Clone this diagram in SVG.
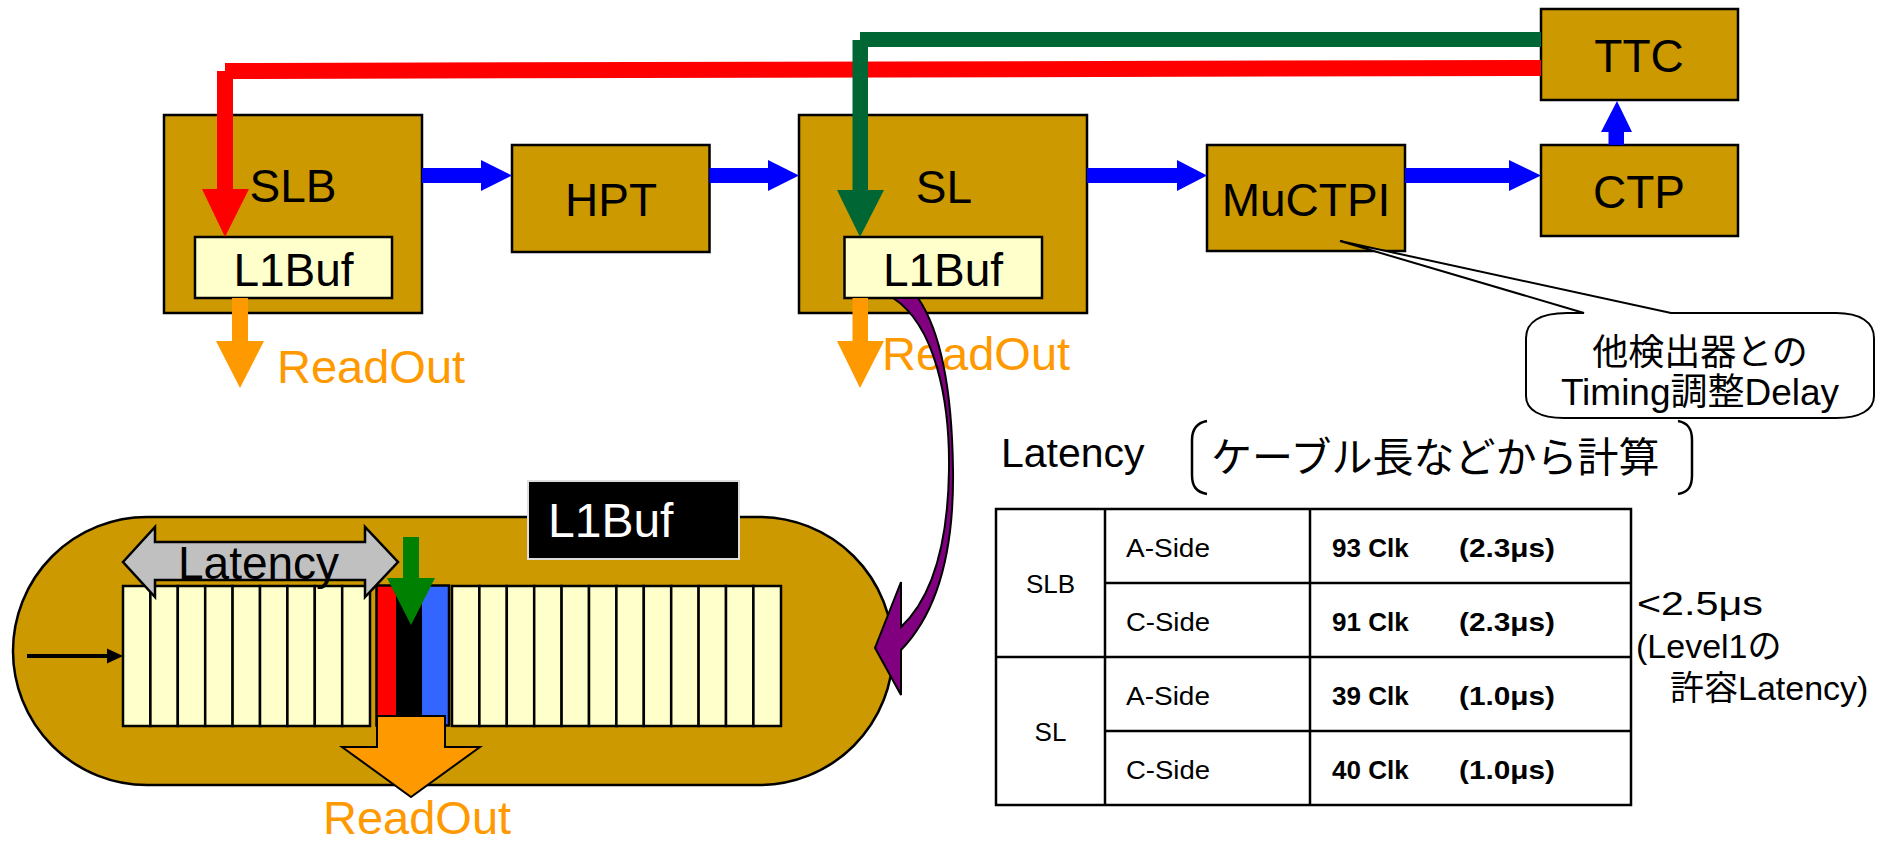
<svg xmlns="http://www.w3.org/2000/svg" width="1890" height="843" viewBox="0 0 1890 843">
<style>
.box{fill:#CC9900;stroke:#000;stroke-width:2.5}
.buf{fill:#FFFFCC;stroke:#000;stroke-width:2.5}
.cell{fill:#FFFFCC;stroke:#000;stroke-width:2.5}
.lbl{font-family:"Liberation Sans",Arial,sans-serif;font-size:46px;fill:#000}
.ro{font-family:"Liberation Sans",Arial,sans-serif;font-size:47px;fill:#FF9900}
.jp{font-family:"Noto Sans CJK JP","Liberation Sans",sans-serif;fill:#000}
.mix{font-family:"Liberation Sans","Noto Sans CJK JP",sans-serif;fill:#000}
.tb{font-family:"Liberation Sans","Noto Sans CJK JP",sans-serif;font-size:26px;fill:#000}
.tbb{font-family:"Liberation Sans","Noto Sans CJK JP",sans-serif;font-size:26px;font-weight:bold;fill:#000}
.blue{fill:#0000FF}
.tline{fill:none;stroke:#000;stroke-width:2.5}
</style>

<!-- top nodes -->
<g id="SLB">
  <rect class="box" x="164" y="115" width="258" height="198"/>
  <text class="lbl" x="293" y="202" text-anchor="middle">SLB</text>
  <rect class="buf" x="195" y="237" width="197" height="61"/>
  <text class="lbl" x="293.5" y="286" text-anchor="middle">L1Buf</text>
</g>
<g id="HPT">
  <rect class="box" x="512" y="145" width="197.5" height="107"/>
  <text class="lbl" x="611" y="216" text-anchor="middle">HPT</text>
</g>
<g id="SL">
  <rect class="box" x="799" y="115" width="288" height="198"/>
  <text class="lbl" x="944" y="203" text-anchor="middle">SL</text>
  <rect class="buf" x="844.5" y="237" width="197.5" height="61"/>
  <text class="lbl" x="943" y="286" text-anchor="middle">L1Buf</text>
</g>
<g id="MuCTPI">
  <rect class="box" x="1207" y="145" width="198" height="106"/>
  <text class="lbl" x="1306" y="216" text-anchor="middle">MuCTPI</text>
</g>
<g id="TTC">
  <rect class="box" x="1541" y="9" width="197" height="91"/>
  <text class="lbl" x="1639" y="72" text-anchor="middle">TTC</text>
</g>
<g id="CTP">
  <rect class="box" x="1541" y="145" width="197" height="91"/>
  <text class="lbl" x="1639" y="208" text-anchor="middle">CTP</text>
</g>

<!-- connectors -->
<g id="connectors">
  <!-- red timing line TTC -> SLB L1Buf -->
  <polygon fill="#FF0000" points="225,63 1541,60 1541,76 225,79"/>
  <rect fill="#FF0000" x="217" y="71" width="16" height="119"/>
  <polygon fill="#FF0000" points="202,189 249,189 225,237"/>
  <!-- green timing line TTC -> SL L1Buf -->
  <rect fill="#006633" x="860" y="32" width="681" height="15"/>
  <rect fill="#006633" x="852.5" y="40" width="15.5" height="151"/>
  <polygon fill="#006633" points="837,190 884,190 860,237"/>
  <!-- blue data arrows -->
  <polygon class="blue" points="422,168 481,168 481,160 512,175.5 481,191 481,183 422,183"/>
  <polygon class="blue" points="709.5,168 768,168 768,160 799,175.5 768,191 768,183 709.5,183"/>
  <polygon class="blue" points="1087,168 1177,168 1177,160 1207,175.5 1177,191 1177,183 1087,183"/>
  <polygon class="blue" points="1405,168 1509,168 1509,160 1541,175.5 1509,191 1509,183 1405,183"/>
  <polygon class="blue" points="1608.5,145 1608.5,132 1601,132 1617,101 1632,132 1624,132 1624,145"/>
  <!-- readout arrows -->
  <polygon fill="#FF9900" points="232,298 248,298 248,341 264,341 240,388 216,341 232,341"/>
  <polygon fill="#FF9900" points="852.5,298 868,298 868,341 884,341 860,388 837,341 852.5,341"/>
</g>

<text class="ro" x="277" y="383">ReadOut</text>
<text class="ro" x="882" y="370">ReadOut</text>

<!-- callout -->
<g id="callout">
  <path d="M1567,313 L1584,313 L1340,241 L1671,313 L1836,313 C1860,313 1874,322 1874,338 L1874,396 C1874,410 1860,418 1836,418 L1564,418 C1540,418 1526,410 1526,396 L1526,338 C1526,322 1540,313 1567,313 Z" fill="#FFFFFF" stroke="#000" stroke-width="2"/>
  <text class="jp" x="1700" y="365" font-size="36" text-anchor="middle">他検出器との</text>
  <text class="mix" x="1700" y="405" font-size="37" text-anchor="middle">Timing調整Delay</text>
</g>

<!-- L1Buf detail -->
<g id="L1Buf-detail">
  <rect x="13" y="517" width="880" height="268" rx="134" ry="134" fill="#CC9900" stroke="#000" stroke-width="2.5"/>
  <g id="cells-left">
    <rect class="cell" x="123" y="586" width="27.4" height="140"/>
    <rect class="cell" x="150.4" y="586" width="27.4" height="140"/>
    <rect class="cell" x="177.8" y="586" width="27.4" height="140"/>
    <rect class="cell" x="205.2" y="586" width="27.4" height="140"/>
    <rect class="cell" x="232.6" y="586" width="27.4" height="140"/>
    <rect class="cell" x="260" y="586" width="27.4" height="140"/>
    <rect class="cell" x="287.4" y="586" width="27.4" height="140"/>
    <rect class="cell" x="314.8" y="586" width="27.4" height="140"/>
    <rect class="cell" x="342.2" y="586" width="27.8" height="140"/>
  </g>
  <g id="cells-current">
    <rect x="377" y="586" width="19" height="139" fill="#FF0000"/>
    <rect x="396" y="586" width="26" height="139" fill="#000000"/>
    <rect x="422" y="586" width="27" height="139" fill="#3366FF"/>
    <rect x="376.5" y="585.5" width="72.5" height="140" fill="none" stroke="#000" stroke-width="2.5"/>
  </g>
  <g id="cells-right">
    <rect class="cell" x="452" y="586" width="27.4" height="140"/>
    <rect class="cell" x="479.4" y="586" width="27.4" height="140"/>
    <rect class="cell" x="506.8" y="586" width="27.4" height="140"/>
    <rect class="cell" x="534.2" y="586" width="27.4" height="140"/>
    <rect class="cell" x="561.6" y="586" width="27.4" height="140"/>
    <rect class="cell" x="589" y="586" width="27.4" height="140"/>
    <rect class="cell" x="616.4" y="586" width="27.4" height="140"/>
    <rect class="cell" x="643.8" y="586" width="27.4" height="140"/>
    <rect class="cell" x="671.2" y="586" width="27.4" height="140"/>
    <rect class="cell" x="698.6" y="586" width="27.4" height="140"/>
    <rect class="cell" x="726" y="586" width="27.4" height="140"/>
    <rect class="cell" x="753.4" y="586" width="27.6" height="140"/>
  </g>
  <!-- input arrow -->
  <line x1="27" y1="656" x2="108" y2="656" stroke="#000" stroke-width="4"/>
  <polygon points="107,648.5 123,656 107,663.5" fill="#000"/>
  <!-- latency double arrow -->
  <polygon points="123,562 155,527 155,542 365,542 365,527 398,562 365,597 365,580 155,580 155,597" fill="#C0C0C0" stroke="#000" stroke-width="2.5"/>
  <text class="lbl" x="178" y="579">Latency</text>
  <!-- trigger arrow -->
  <polygon points="403,537 419,537 419,578 435,578 411,625 387,578 403,578" fill="#008000"/>
  <!-- readout block arrow -->
  <polygon points="377,716 445,716 445,747 480,747 411,797 342,747 377,747" fill="#FF9900" stroke="#000" stroke-width="2"/>
  <!-- label -->
  <rect x="528" y="481" width="211" height="78" fill="#000" stroke="#DDDDDD" stroke-width="2"/>
  <text x="548" y="537" font-family="Liberation Sans,Arial,sans-serif" font-size="48" fill="#FFFFFF">L1Buf</text>
</g>
<text class="ro" x="323" y="834" font-size="46">ReadOut</text>

<!-- curved arrow SL L1Buf -> detail -->
<g id="zoom-arrow">
  <path d="M893,298 C935,325 950,400 949,470 C948,540 935,595 901,627 L901,582 L875,648 L901,695 L901,650 C940,610 954,545 953,470 C952,390 940,330 918,298 Z" fill="#800080" stroke="#000" stroke-width="2" stroke-linejoin="miter"/>
</g>

<!-- latency header -->
<g id="latency-header">
  <text class="mix" x="1001" y="467" font-size="41">Latency</text>
  <path d="M1207,421 C1196,423 1192,430 1192,440 L1192,475 C1192,486 1196,492 1207,494" class="tline"/>
  <path d="M1678,421 C1689,423 1692,430 1692,440 L1692,475 C1692,486 1689,492 1678,494" class="tline"/>
  <text class="jp" x="1211" y="472" font-size="41">ケーブル長などから計算</text>
</g>

<!-- table -->
<g id="table">
  <rect x="996" y="509" width="635" height="296" fill="#FFFFFF" stroke="#000" stroke-width="2.5"/>
  <line x1="1105" y1="509" x2="1105" y2="805" stroke="#000" stroke-width="2.5"/>
  <line x1="1310" y1="509" x2="1310" y2="805" stroke="#000" stroke-width="2.5"/>
  <line x1="996" y1="657" x2="1631" y2="657" stroke="#000" stroke-width="2.5"/>
  <line x1="1105" y1="583" x2="1631" y2="583" stroke="#000" stroke-width="2.5"/>
  <line x1="1105" y1="731" x2="1631" y2="731" stroke="#000" stroke-width="2.5"/>
  <text class="tb" x="1050.5" y="593" text-anchor="middle">SLB</text>
  <text class="tb" x="1050.5" y="741" text-anchor="middle">SL</text>
  <text class="tb" x="1126" y="557" textLength="84" lengthAdjust="spacingAndGlyphs">A-Side</text>
  <text class="tb" x="1126" y="631" textLength="84" lengthAdjust="spacingAndGlyphs">C-Side</text>
  <text class="tb" x="1126" y="705" textLength="84" lengthAdjust="spacingAndGlyphs">A-Side</text>
  <text class="tb" x="1126" y="779" textLength="84" lengthAdjust="spacingAndGlyphs">C-Side</text>
  <text class="tbb" y="557"><tspan x="1332">93 Clk</tspan><tspan x="1459" textLength="96" lengthAdjust="spacingAndGlyphs">(2.3μs)</tspan></text>
  <text class="tbb" y="631"><tspan x="1332">91 Clk</tspan><tspan x="1459" textLength="96" lengthAdjust="spacingAndGlyphs">(2.3μs)</tspan></text>
  <text class="tbb" y="705"><tspan x="1332">39 Clk</tspan><tspan x="1459" textLength="96" lengthAdjust="spacingAndGlyphs">(1.0μs)</tspan></text>
  <text class="tbb" y="779"><tspan x="1332">40 Clk</tspan><tspan x="1459" textLength="96" lengthAdjust="spacingAndGlyphs">(1.0μs)</tspan></text>
</g>

<g id="limit-note">
  <text class="mix" font-size="34"><tspan x="1637" y="615" textLength="126" lengthAdjust="spacingAndGlyphs">&lt;2.5μs</tspan><tspan x="1636" y="658">(Level1の</tspan><tspan x="1670" y="700">許容Latency)</tspan></text>
</g>
</svg>
